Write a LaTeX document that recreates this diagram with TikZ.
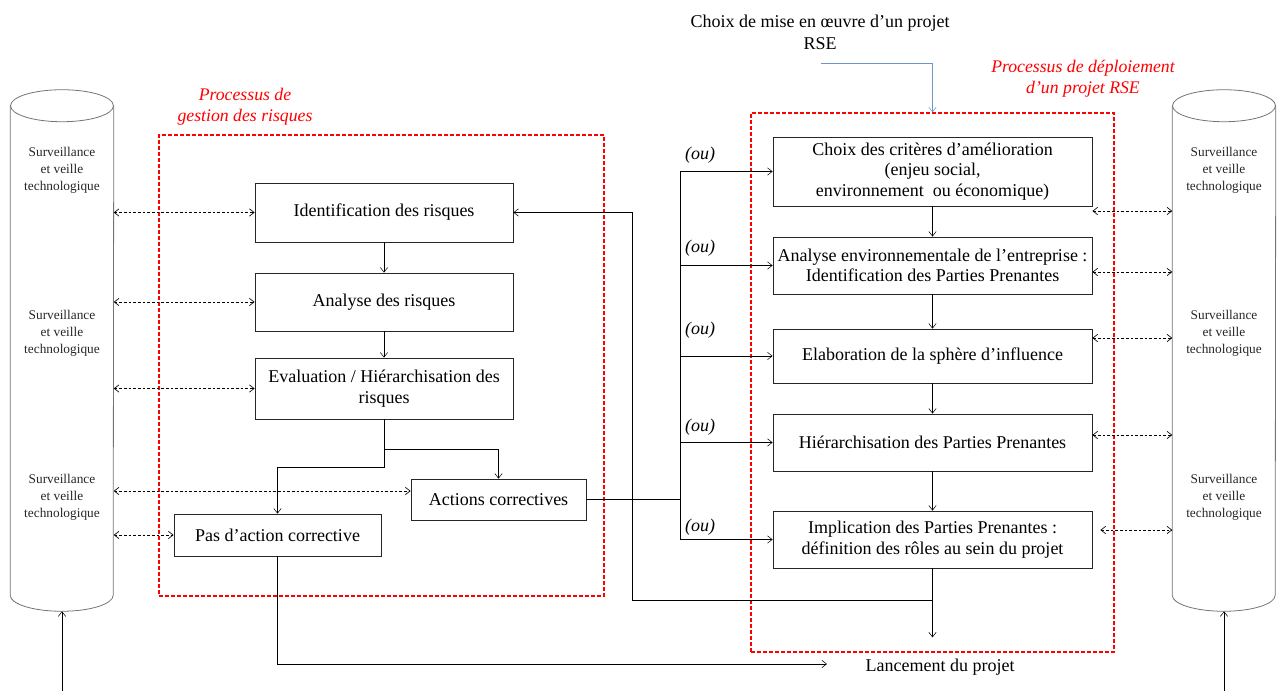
\documentclass[tikz,border=0pt]{standalone}
\usepackage{fontspec}
\setmainfont{Liberation Serif}
\usetikzlibrary{arrows.meta,calc,positioning}
\definecolor{bleuRSE}{RGB}{110,150,205}

\begin{document}
\begin{tikzpicture}
    [x=0.75pt, y=-0.75pt, >={Straight Barb[length=3.5pt,width=5.5pt]},
    box/.style={rectangle, draw=black!85, line width=0.6pt, align=center,
      font=\fontsize{13.5}{15.5}\selectfont, inner sep=2pt},
    rbox/.style={box, minimum width=239.25pt, minimum height=42.75pt},
    lbox/.style={box, minimum width=193.5pt},
    cadre/.style={draw=red, line width=1pt, dash pattern=on 3pt off 1.5pt},
    titre/.style={text=red, font=\fontsize{13.3}{15.5}\selectfont\itshape, align=center},
    veille/.style={font=\fontsize{10}{12.75}\selectfont, text=black!85, align=center},
    cyl/.style={minimum width=77.25pt, minimum height=366.75pt, inner sep=0pt},
    veilleline/.style={draw=black!55, line width=0.6pt},
    echange/.style={<->, dash pattern=on 2pt off 1.5pt, line width=0.5pt},
    ou/.style={font=\fontsize{13.5}{15.5}\selectfont\itshape}]

  \useasboundingbox (0,0) rectangle (1277,691);

  % cylinders
  \node[cyl] (cylL) at (62,350.5) {};
  \node[cyl] (cylR) at (1224,350.5) {};
  \foreach \c in {cylL,cylR} {
    \draw[veilleline] (\c.north) ellipse [x radius=38.6pt, y radius=12pt];
    \draw[veilleline] (\c.north west) -- (\c.south west)
      arc [start angle=180, end angle=360, x radius=38.6pt, y radius=12pt]
      -- (\c.north east);
  }
  \foreach \y in {170,333,497} {
    \node[veille] (vL\y) at (62,\y) {Surveillance\\et veille\\technologique};
    \node[veille] (vR\y) at (1224,\y) {Surveillance\\et veille\\technologique};
  }

  % frames
  \node[cadre, minimum width=333.75pt, minimum height=345.75pt] (gestBox) at (381.5,365.5) {};
  \node[cadre, minimum width=272.25pt, minimum height=404.25pt] (deplBox) at (932.5,382.5) {};
  \node[titre] (gestLbl) at (245,107) {Processus de\\gestion des risques};
  \node[titre] (deplLbl) at (1083,79) {Processus de déploiement\\d’un projet RSE};

  \node[font=\fontsize{13.5}{16.5}\selectfont, align=center] (choixRSE) at (820,32)
    {Choix de mise en œuvre d’un projet\\RSE};

  % risk management
  \node[lbox, minimum height=44.25pt] (idR) at (384,212.5) {Identification des risques};
  \node[lbox, minimum height=43.5pt, below=22.65pt of idR] (anR) {Analyse des risques};
  \node[lbox, minimum height=45.75pt, below=19.65pt of anR] (evR) {Evaluation / Hiérarchisation des\\risques};
  \node[box, minimum width=131.25pt, minimum height=30.75pt] (actC) at (498.5,499.5) {Actions correctives};
  \node[box, minimum width=155.25pt, minimum height=31.5pt] (pasA) at (277.5,535) {Pas d’action corrective};

  % CSR deployment
  \node[rbox, minimum height=51.75pt] (choix) at (932.5,171.5)
    {Choix des critères d’amélioration\\(enjeu social,\\environnement~~ou économique)};
  \node[rbox, below=22.65pt of choix] (anE) {Analyse environnementale de l’entreprise :\\Identification des Parties Prenantes};
  \node[rbox, minimum height=40.5pt, below=25.65pt of anE] (elab) {Elaboration de la sphère d’influence};
  \node[rbox, below=22.65pt of elab] (hier) {Hiérarchisation des Parties Prenantes};
  \node[rbox, below=29.4pt of hier] (impl) {Implication des Parties Prenantes :\\définition des rôles au sein du projet};

  \node[font=\fontsize{13.5}{15.5}\selectfont] (lanc) at (940,667) {Lancement du projet};

  \node[ou] (ou1) at (700,155) {(ou)};
  \node[ou] (ou2) at (700,248) {(ou)};
  \node[ou] (ou3) at (700,330) {(ou)};
  \node[ou] (ou4) at (700,427) {(ou)};
  \node[ou] (ou5) at (700,527) {(ou)};

  % links
  \draw[->, bleuRSE] (821,63) -| (deplBox.north);

  \draw[->] (idR) -- (anR);
  \draw[->] (anR) -- (evR);
  \coordinate (sp1) at (384,449);
  \coordinate (sp2) at (384,467);
  \draw[->] (evR.south) -- (sp1) -| (actC.north);
  \draw[->] (sp1) -- (sp2) -| (pasA.north);

  \draw[->] (choix) -- (anE);
  \draw[->] (anE) -- (elab);
  \draw[->] (elab) -- (hier);
  \draw[->] (hier) -- (impl);

  \coordinate (ouX) at (680,0);
  \draw[line width=0.9pt] (actC.east) -- (actC.east -| ouX);
  \draw (ouX |- choix.west) -- (ouX |- impl.west);
  \foreach \b in {choix,anE,elab,hier,impl}
    \draw[->] (ouX |- \b.west) -- (\b.west);

  \coordinate (retX) at (632,600);
  \draw[->] (impl.south) |- (retX) |- (idR.east);
  \draw[->] (impl.south) -- ++(0,69);
  \draw[->] (pasA.south) |- (827,664);

  % exchanges with the watch
  \foreach \b/\dy in {idR/0, anR/0, evR/0, actC/-8.5, pasA/0} {
    \coordinate (g\b) at ($(\b.west)+(0,\dy)$);
    \draw[echange] (cylL.east |- g\b) -- (g\b);
  }
  \foreach \b/\dy/\dx in {choix/39.5/0, anE/6.5/0, elab/-18/0, hier/-7.5/0, impl/-9.5/8} {
    \coordinate (e\b) at ($(\b.east)+(\dx,\dy)$);
    \draw[echange] (e\b) -- (e\b -| cylR.west);
  }

  \draw[->] (cylL.south |- 0,691) -- ($(cylL.south)+(0,16)$);
  \draw[->] (cylR.south |- 0,691) -- ($(cylR.south)+(0,16)$);

\end{tikzpicture}
\end{document}
